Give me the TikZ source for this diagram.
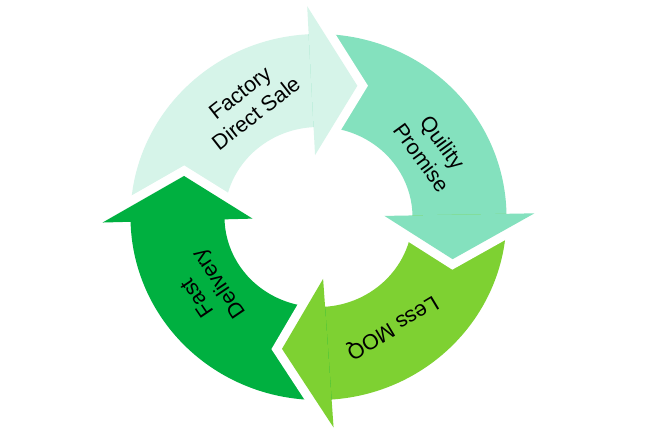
\documentclass[tikz,border=0pt]{standalone}
\usepackage{fontspec}
\setmainfont{Liberation Sans}
\definecolor{saleMint}{RGB}{214,244,233}
\definecolor{promiseMint}{RGB}{132,225,190}
\definecolor{moqLime}{RGB}{126,209,50}
\definecolor{deliveryGreen}{RGB}{0,176,64}
\begin{document}
\begin{tikzpicture}
[x=1pt,y=1pt,%
  gapDecorate/.style={draw=white,line width=18pt,line join=miter},
  labelDecorate/.style={align=center,inner sep=0pt,text=black,
    font=\fontsize{21.5}{26}\selectfont}]
\useasboundingbox (0,0) rectangle (652,440);
\fill[white] (0,0) rectangle (652,440);
\begin{scope}[shift={(318.5,223)}]
%% ring parts of the arrows (each runs a little under its own head)
\foreach \name/\col/\a/\b in {
  sale/saleMint/181.5/91.5,
  promise/promiseMint/93/-0.5,
  moq/moqLime/1/-87.5,
  delivery/deliveryGreen/-86/-180}
{
  \fill[\col] (\a:188pt and 183pt)
    arc[start angle=\a,end angle=\b,x radius=188pt,y radius=183pt]
    -- (\b:94pt and 90pt)
    arc[start angle=\b,end angle=\a,x radius=94pt,y radius=90pt] -- cycle;
}
%% arrow heads
\foreach \name/\col/\b in {
  sale/saleMint/93,
  promise/promiseMint/1,
  moq/moqLime/-86,
  delivery/deliveryGreen/-178.5}
{
  \pgfmathsetmacro\t{\b-19}
  \coordinate (\name-out) at (\b:216pt and 211pt);
  \coordinate (\name-in) at (\b:66pt and 62pt);
  \coordinate (\name-tip) at (\t:141pt and 136.5pt);
  \draw[gapDecorate] (\name-out) -- (\name-tip) -- (\name-in);
  \fill[\col] (\name-out) -- (\name-tip) -- (\name-in) -- cycle;
}
\end{scope}
%% labels
\node (sale) at (248,337) [labelDecorate,rotate=38] {Factory\\Direct Sale};
\node (promise) at (432,290) [labelDecorate,rotate=-54] {Quility\\Promise};
\node (moq) at (392,113) [labelDecorate,rotate=211] {Less MOQ};
\node (delivery) at (209,150) [labelDecorate,rotate=124] {Fast\\Delivery};
\end{tikzpicture}
\end{document}
